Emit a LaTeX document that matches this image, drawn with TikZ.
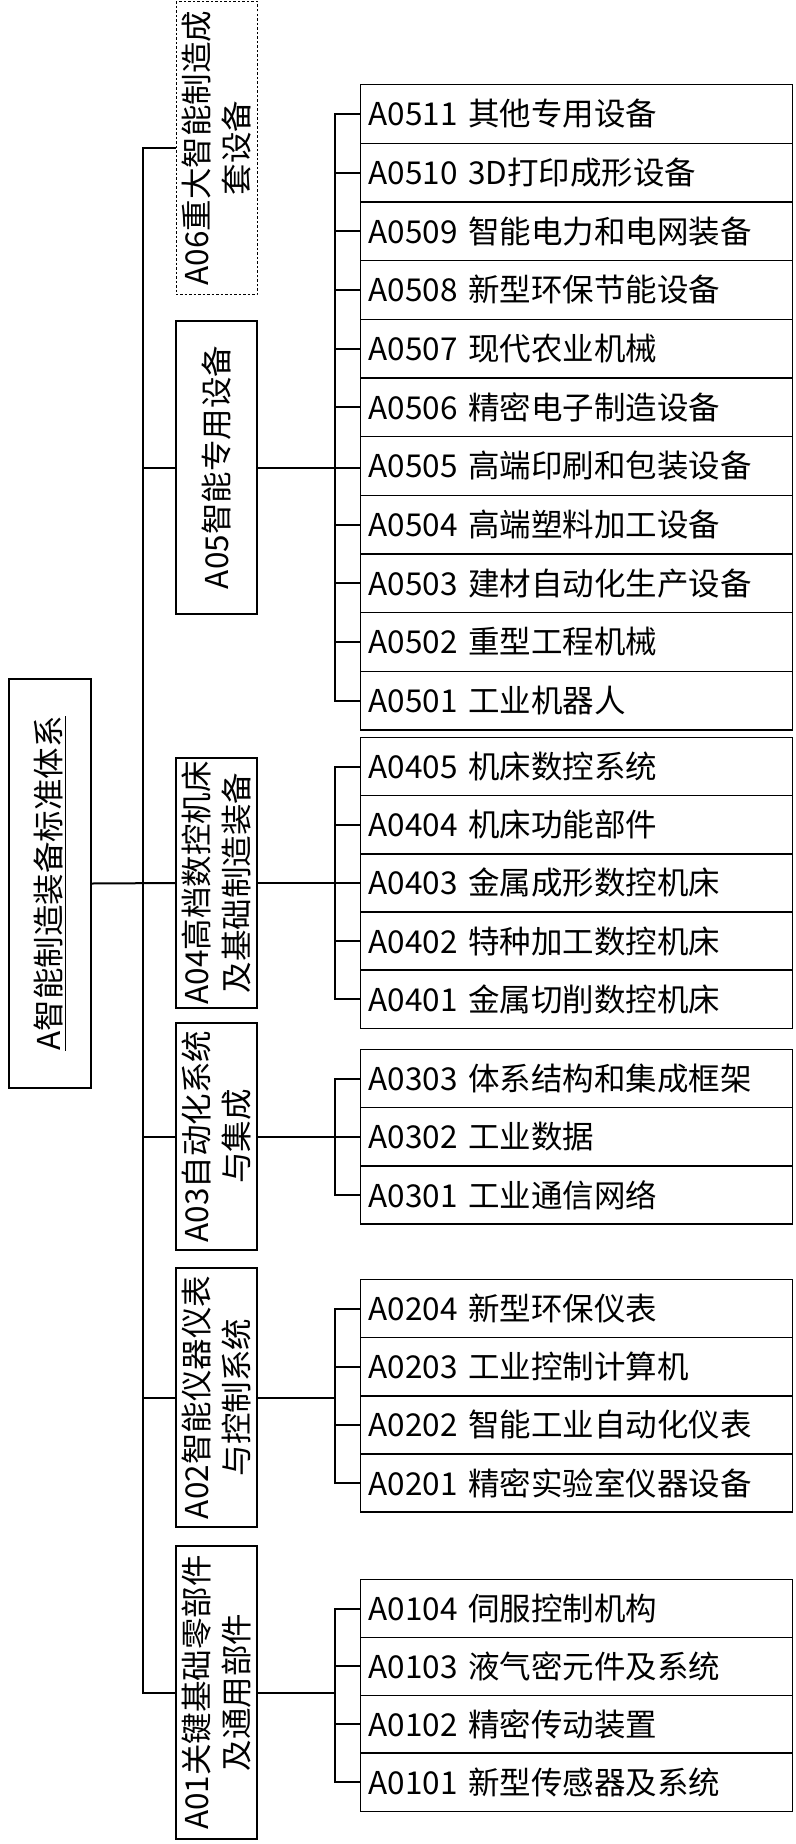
\documentclass[tikz,border=0pt]{standalone}
\usepackage{fontspec}
\setmainfont{Noto Sans CJK SC}
\usetikzlibrary{positioning}

\begin{document}
\begin{tikzpicture}[x=1pt,y=-1pt,
    rootbox/.style={draw,line width=1.3pt,rotate=90,align=center,font=\fontsize{31.5}{40}\selectfont,minimum width=409pt,minimum height=82pt,inner sep=0pt},
    catbox/.style={draw,line width=1.3pt,rotate=90,align=center,font=\fontsize{31.5}{40}\selectfont,minimum height=81pt,inner sep=0pt},
    leaf/.style={draw,line width=1.3pt,anchor=west,align=left,text width=416pt,inner xsep=8pt,inner ysep=0pt,minimum height=58.1pt,font=\fontsize{31.5}{36}\selectfont},
    leafwide/.style={leaf,minimum height=58.7pt},
    link/.style={line width=2pt}
  ]
  \useasboundingbox (0,0) rectangle (795,1844);

  % root and categories
  \node[rootbox] (root) at (50,883.5) {\underline{A智能制造装备标准体系}};
  \node[catbox,minimum width=293pt,line width=0.9pt,dash pattern=on 2.5pt off 2pt] (a06) at (216.5,148) {A06重大智能制造成\\套设备};
  \node[catbox,minimum width=293pt] (a05) at (216.5,467.5) {A05智能专用设备};
  \node[catbox,minimum width=250pt] (a04) at (216.5,883) {A04高档数控机床\\及基础制造装备};
  \node[catbox,minimum width=227pt] (a03) at (216.5,1136.5) {A03自动化系统\\与集成};
  \node[catbox,minimum width=259pt] (a02) at (216.5,1397.5) {A02智能仪器仪表\\与控制系统};
  \node[catbox,minimum width=293pt] (a01) at (216.5,1692.5) {A01关键基础零部件\\及通用部件};

  % A05 leaves
  \node[leafwide] (l0511) at (360,114) {A0511 其他专用设备};
  \node[leafwide] (l0510) at (360,172.7) {A0510 3D打印成形设备};
  \node[leafwide] (l0509) at (360,231.3) {A0509 智能电力和电网装备};
  \node[leafwide] (l0508) at (360,290) {A0508 新型环保节能设备};
  \node[leafwide] (l0507) at (360,348.6) {A0507 现代农业机械};
  \node[leafwide] (l0506) at (360,407.3) {A0506 精密电子制造设备};
  \node[leafwide] (l0505) at (360,466) {A0505 高端印刷和包装设备};
  \node[leafwide] (l0504) at (360,524.6) {A0504 高端塑料加工设备};
  \node[leafwide] (l0503) at (360,583.3) {A0503 建材自动化生产设备};
  \node[leafwide] (l0502) at (360,642) {A0502 重型工程机械};
  \node[leafwide] (l0501) at (360,700.6) {A0501 工业机器人};

  % A04 leaves
  \node[leaf] (l0405) at (360,766.7) {A0405 机床数控系统};
  \node[leaf] (l0404) at (360,824.8) {A0404 机床功能部件};
  \node[leaf] (l0403) at (360,882.9) {A0403 金属成形数控机床};
  \node[leaf] (l0402) at (360,941) {A0402 特种加工数控机床};
  \node[leaf] (l0401) at (360,999.1) {A0401 金属切削数控机床};

  % A03 leaves
  \node[leaf] (l0303) at (360,1078.7) {A0303 体系结构和集成框架};
  \node[leaf] (l0302) at (360,1136.8) {A0302 工业数据};
  \node[leaf] (l0301) at (360,1194.9) {A0301 工业通信网络};

  % A02 leaves
  \node[leaf] (l0204) at (360,1308.7) {A0204 新型环保仪表};
  \node[leaf] (l0203) at (360,1366.8) {A0203 工业控制计算机};
  \node[leaf] (l0202) at (360,1424.9) {A0202 智能工业自动化仪表};
  \node[leaf] (l0201) at (360,1483) {A0201 精密实验室仪器设备};

  % A01 leaves
  \node[leaf] (l0104) at (360,1608.5) {A0104 伺服控制机构};
  \node[leaf] (l0103) at (360,1666.4) {A0103 液气密元件及系统};
  \node[leaf] (l0102) at (360,1724.2) {A0102 精密传动装置};
  \node[leaf] (l0101) at (360,1782.1) {A0101 新型传感器及系统};

  % trunk
  \draw[link] (root.south) -- (a04.north);
  \draw[link] (a06.north) -- ++(-33,0) |- (a01.north);
  \draw[link] (a05.north) -- ++(-33,0);
  \draw[link] (a03.north) -- ++(-33,0);
  \draw[link] (a02.north) -- ++(-33,0);

  % buses to leaves
  \draw[link] (a05.south) -- (a05.south -| l0505.west);
  \draw[link] (l0511.west) -- ++(-25,0) |- (l0501.west);
  \draw[link] (l0510.west) -- ++(-25,0);
  \draw[link] (l0509.west) -- ++(-25,0);
  \draw[link] (l0508.west) -- ++(-25,0);
  \draw[link] (l0507.west) -- ++(-25,0);
  \draw[link] (l0506.west) -- ++(-25,0);
  \draw[link] (l0504.west) -- ++(-25,0);
  \draw[link] (l0503.west) -- ++(-25,0);
  \draw[link] (l0502.west) -- ++(-25,0);

  \draw[link] (a04.south) -- (a04.south -| l0403.west);
  \draw[link] (l0405.west) -- ++(-25,0) |- (l0401.west);
  \draw[link] (l0404.west) -- ++(-25,0);
  \draw[link] (l0402.west) -- ++(-25,0);

  \draw[link] (a03.south) -- (a03.south -| l0302.west);
  \draw[link] (l0303.west) -- ++(-25,0) |- (l0301.west);

  \draw[link] (a02.south) -- ++(78,0);
  \draw[link] (l0204.west) -- ++(-25,0) |- (l0201.west);
  \draw[link] (l0203.west) -- ++(-25,0);
  \draw[link] (l0202.west) -- ++(-25,0);

  \draw[link] (a01.south) -- ++(78,0);
  \draw[link] (l0104.west) -- ++(-25,0) |- (l0101.west);
  \draw[link] (l0103.west) -- ++(-25,0);
  \draw[link] (l0102.west) -- ++(-25,0);
\end{tikzpicture}
\end{document}
